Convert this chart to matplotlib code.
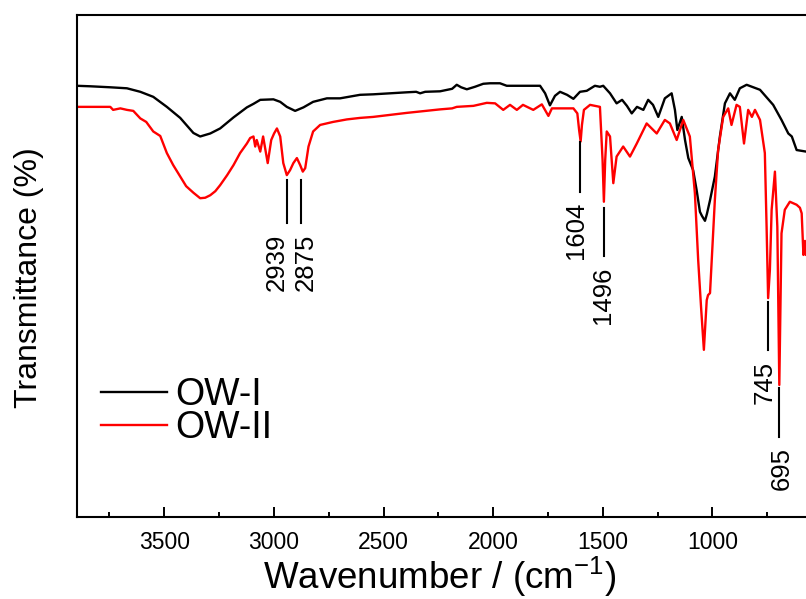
import matplotlib.pyplot as plt

plt.rcParams["font.family"] = ["Liberation Sans", "DejaVu Sans"]
plt.rcParams["mathtext.fontset"] = "custom"
plt.rcParams["mathtext.rm"] = "Liberation Sans"
plt.rcParams["mathtext.default"] = "regular"

# --- OW-I spectrum (wavenumber, transmittance %) ---
ow1_wn = [3899, 3837, 3746, 3670, 3609, 3550, 3488, 3427, 3367, 3336, 3290, 3245,
          3184, 3123, 3093, 3062, 3002, 2971, 2941, 2903, 2865, 2821, 2758, 2698,
          2607, 2547, 2394, 2351, 2333, 2310, 2242, 2187, 2166, 2146, 2120, 2083,
          2045, 2014, 1969, 1938, 1877, 1786, 1763, 1741, 1718, 1695, 1663, 1634,
          1604, 1573, 1536, 1513, 1498, 1467, 1437, 1412, 1390, 1368, 1344, 1315,
          1293, 1271, 1247, 1217, 1186, 1171, 1160, 1140, 1125, 1110, 1088, 1072,
          1057, 1048, 1034, 1025, 1011, 989, 966, 943, 920, 898, 875, 844,
          783, 723, 685, 654, 638, 616, 574, 533]
ow1_t = [85.9, 85.8, 85.6, 85.4, 84.7, 83.7, 81.7, 79.5, 76.5, 75.8, 76.4, 77.4,
         79.6, 81.6, 82.3, 83.1, 83.2, 82.7, 81.7, 80.9, 81.6, 82.7, 83.4, 83.4,
         84.1, 84.2, 84.6, 84.7, 84.4, 84.7, 84.8, 85.3, 86.1, 85.6, 85.2, 85.7,
         86.3, 86.4, 86.4, 85.9, 85.9, 85.9, 84.4, 82.0, 83.9, 84.7, 84.1, 83.3,
         84.7, 84.9, 85.9, 85.7, 85.9, 84.4, 82.4, 83.1, 81.9, 80.4, 81.7, 81.1,
         83.1, 82.1, 79.7, 83.4, 84.4, 81.1, 77.1, 79.7, 75.1, 71.5, 69.1, 65.1,
         60.8, 60.0, 59.0, 60.4, 63.1, 67.8, 75.8, 82.4, 84.4, 83.1, 85.4, 86.1,
         85.1, 82.1, 79.1, 76.4, 75.8, 73.1, 72.8, 72.7]

# --- OW-II spectrum ---
ow2_wn = [3899, 3791, 3746, 3733, 3700, 3670, 3641, 3609, 3582, 3550, 3518, 3488,
          3459, 3427, 3400, 3367, 3336, 3313, 3290, 3267, 3245, 3213, 3184, 3154,
          3123, 3108, 3093, 3085, 3078, 3062, 3049, 3028, 3012, 2999, 2986, 2971,
          2957, 2941, 2926, 2911, 2895, 2880, 2868, 2857, 2842, 2821, 2789, 2730,
          2667, 2607, 2547, 2394, 2242, 2187, 2166, 2090, 2029, 1991, 1954, 1923,
          1892, 1864, 1817, 1778, 1748, 1732, 1710, 1634, 1616, 1608, 1601, 1595,
          1586, 1558, 1513, 1501, 1495, 1489, 1482, 1467, 1452, 1437, 1407, 1376,
          1345, 1300, 1254, 1217, 1194, 1163, 1133, 1103, 1080, 1065, 1052, 1039,
          1026, 1020, 1011, 989, 974, 951, 928, 913, 890, 875, 856, 837,
          820, 806, 783, 761, 753, 746, 738, 730, 715, 704, 695, 685,
          670, 647, 616, 601, 593, 585, 578, 574, 555]
ow2_t = [81.7, 81.7, 81.7, 81.1, 81.4, 81.1, 80.9, 79.4, 78.7, 76.8, 75.9, 72.5,
         70.1, 67.8, 65.9, 64.6, 63.5, 63.6, 64.1, 64.9, 66.1, 68.1, 70.1, 72.5,
         74.4, 75.5, 75.8, 73.8, 75.1, 72.8, 75.8, 70.5, 75.1, 76.4, 77.4, 75.8,
         70.5, 68.1, 69.1, 70.5, 71.5, 70.1, 68.8, 69.5, 73.8, 76.8, 78.1, 78.7,
         79.2, 79.5, 79.7, 80.5, 81.2, 81.4, 81.7, 81.9, 82.5, 82.4, 81.1, 82.1,
         81.1, 82.1, 81.1, 82.2, 79.9, 81.4, 81.4, 81.4, 80.4, 77.1, 74.8, 78.1,
         81.1, 82.1, 81.7, 71.1, 62.8, 71.1, 76.8, 75.8, 66.5, 71.8, 73.8, 71.8,
         74.4, 78.4, 76.4, 79.1, 78.4, 75.1, 79.1, 75.8, 64.5, 51.2, 41.9, 33.3,
         43.2, 44.2, 44.6, 63.1, 73.1, 79.7, 81.4, 78.1, 82.1, 81.7, 74.4, 81.1,
         79.7, 81.1, 79.1, 72.5, 57.8, 43.6, 49.2, 61.2, 68.8, 57.8, 26.3, 56.5,
         61.2, 62.8, 62.2, 61.6, 60.5, 52.2, 55.0, 52.2, 53.2]

# --- peak marks: label, line x, line y range, label centre ---
peak_labels = ["2939", "2875", "1604", "1496", "745", "695"]
peak_wn = [2939, 2875, 1604, 1496, 745, 695]
peak_line_top = [67.1, 67.1, 74.8, 61.5, 42.9, 25.6]
peak_line_bottom = [58.6, 58.6, 64.8, 51.9, 33.3, 16.0]
peak_text_wn = [2987, 2853, 1624, 1498, 761, 685]
peak_text_t = [50.7, 50.7, 57.2, 44.1, 26.8, 9.6]

major_ticks = [3500, 3000, 2500, 2000, 1500, 1000]
minor_ticks = [3750, 3250, 2750, 2250, 1750, 1250, 750]

fig = plt.figure(figsize=(8.06, 5.99), dpi=100)
ax = fig.add_axes([76.5 / 806, 82 / 599, 767.5 / 806, 502 / 599])

ax.plot(ow1_wn, ow1_t, color="black", lw=1.7, label="OW-I")
ax.plot(ow2_wn, ow2_t, color="#ff0000", lw=1.7, label="OW-II")

for lab, wn, y0, y1, tx, ty in zip(peak_labels, peak_wn, peak_line_top,
                                   peak_line_bottom, peak_text_wn, peak_text_t):
    ax.plot([wn, wn], [y0, y1], color="black", lw=1.5)
    ax.text(tx, ty, lab, rotation=90, ha="center", va="center", fontsize=18.5)

ax.set_xlim(3900, 400)
ax.set_ylim(0, 100)
ax.set_yticks([])
ax.set_xticks(major_ticks)
ax.set_xticks(minor_ticks, minor=True)
ax.tick_params(axis="x", which="major", direction="in", length=7, width=1.4,
               labelsize=16.5, pad=10)
ax.tick_params(axis="x", which="minor", direction="in", length=3.6, width=1.4)
for sp in ["top", "bottom", "left"]:
    ax.spines[sp].set_linewidth(1.5)
ax.spines["right"].set_visible(False)

ax.set_xlabel("Wavenumber / (cm$^{-1}$)", fontsize=26.5, va="baseline")
ax.xaxis.set_label_coords(0.4736, -0.1434)
ax.set_ylabel("Transmittance (%)", fontsize=23)
ax.yaxis.set_label_coords(-0.042, 0.477)

ax.legend(loc="upper left", bbox_to_anchor=(0.0315, 0.278), frameon=False,
          fontsize=27, handlelength=1.78, handletextpad=0.2, labelspacing=-0.08,
          borderpad=0, borderaxespad=0)

fig.savefig("out.png", dpi=100)
